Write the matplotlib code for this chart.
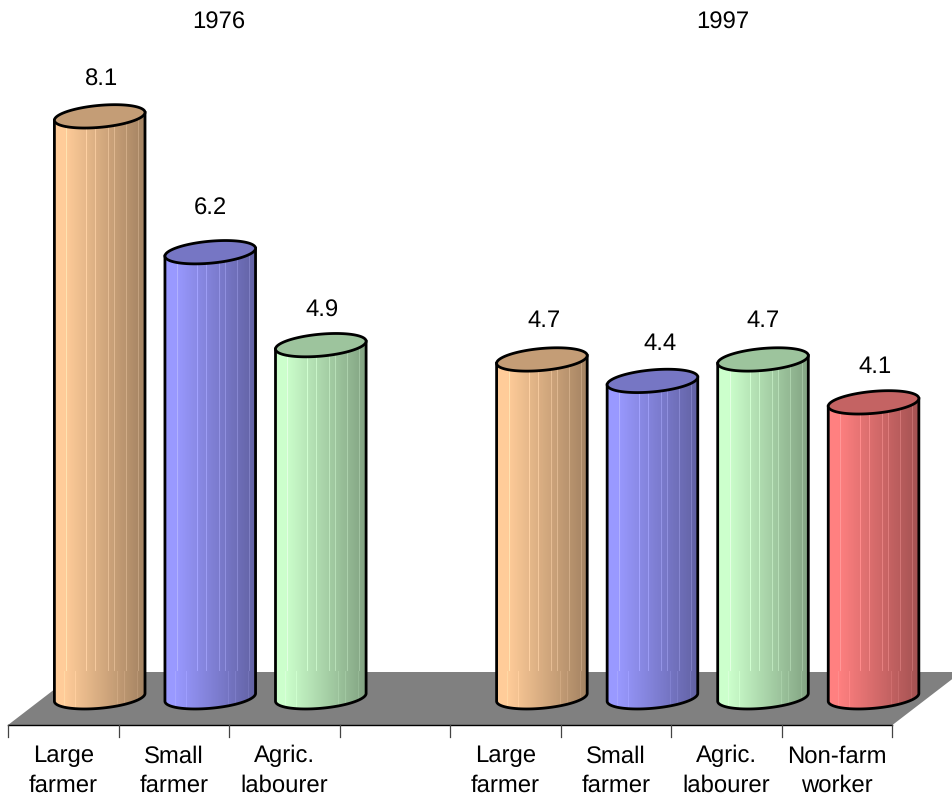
import numpy as np
import matplotlib
matplotlib.use("Agg")
import matplotlib.pyplot as plt
from matplotlib.patches import PathPatch, Polygon
from matplotlib.path import Path
from matplotlib.colors import to_rgb

plt.rcParams['font.family'] = ['Liberation Sans', 'DejaVu Sans']
plt.rcParams['text.hinting'] = 'no_hinting'

# ---- data ----
groups = ['1976', '1997']
slots = [0, 1, 2, 4, 5, 6, 7]
categories = ['Large\nfarmer', 'Small\nfarmer', 'Agric.\nlabourer',
              'Large\nfarmer', 'Small\nfarmer', 'Agric.\nlabourer', 'Non-farm\nworker']
values = [8.1, 6.2, 4.9, 4.7, 4.4, 4.7, 4.1]
bar_colors = ['#FFCC99', '#9999FF', '#CCFFCC', '#FFCC99', '#9999FF', '#CCFFCC', '#FF8080']

# ---- layout (scale: pixels per unit) ----
W, H = 953, 798
PX_X = 110.55
PX_Y = 71.5
X0_PX = 63.3      # slot 0 label centre on the front edge
Y0_PX = 695.5     # value 0 at the cylinders' base
DEPTH_X = 36.4 / PX_X
A = 45.3 / PX_X
B = 11.0 / PX_Y
TILT = 3.9 / PX_Y
BASE = -1.8 / PX_Y  # base ellipse sits slightly below the value origin

fig = plt.figure(figsize=(W / 100, H / 100), dpi=100)
ax = fig.add_axes([0, 0, 1, 1])
xlim = (-X0_PX / PX_X, (W - X0_PX) / PX_X)
ylim = ((Y0_PX - H) / PX_Y, Y0_PX / PX_Y)
ax.set_axis_off()

front_y = (Y0_PX - 725) / PX_Y
back_y = (Y0_PX - 672) / PX_Y
left = -0.5
right = 7.5
dx_depth = 69 / PX_X

ax.add_patch(Polygon([(left, front_y), (right, front_y),
                      (right + dx_depth, back_y), (left + dx_depth, back_y)],
                     closed=True, fc='#808080', ec='none', zorder=1))
ax.plot([left, right], [front_y, front_y], color='black', lw=1.0, zorder=2)
tick_bottom = (Y0_PX - 737) / PX_Y
for k in range(9):
    ax.plot([left + k] * 2, [front_y, tick_bottom], color='#444444', lw=0.9, zorder=2)

# streak positions across the cylinder width
streaks = [0.14, 0.28, 0.36, 0.46, 0.52, 0.60, 0.67, 0.73, 0.80, 0.87, 0.93]
low_streaks = [0.07, 0.12, 0.18, 0.24, 0.32, 0.42, 0.52, 0.62, 0.70, 0.78, 0.85, 0.92]


def shade(color, marks, gain):
    n = 182
    u = np.linspace(0, 1, n)
    f = np.where(u < 0.12, 1.0, 1.0 - 0.36 * ((u - 0.12) / 0.88))
    rgb = np.array(to_rgb(color))
    img = (f[:, None] * rgb)[None, :, :]
    for m in marks:
        i = int(m * n)
        img[0, i:i + 1, :] = np.clip(img[0, i:i + 1, :] + gain, 0, 1)
    return img


t = np.linspace(0, 2 * np.pi, 200)
for s, v, col in zip(slots, values, bar_colors):
    cx = s + DEPTH_X
    th = np.linspace(np.pi, 2 * np.pi, 80)
    xb = cx + A * np.cos(th)
    yb = BASE + B * np.sin(th) + TILT * np.cos(th)
    top_front = v + B * np.sin(th) + TILT * np.cos(th)
    verts = list(zip(xb, yb)) + list(zip(xb[::-1], top_front[::-1])) + [(xb[0], yb[0])]
    patch = PathPatch(Path(verts), fc='none', ec='none', transform=ax.transData)
    ax.add_patch(patch)
    im1 = ax.imshow(shade(col, streaks, 0.10), extent=(cx - A, cx + A, back_y, v + B * 2),
                    aspect='auto', zorder=3, interpolation='nearest')
    im2 = ax.imshow(shade(col, low_streaks, 0.05), extent=(cx - A, cx + A, BASE - B * 2, back_y),
                    aspect='auto', zorder=3, interpolation='nearest')
    im1.set_clip_path(patch)
    im2.set_clip_path(patch)
    # outline: left side, base arc, right side as one line
    ox = np.r_[xb[0], xb, xb[-1]]
    oy = np.r_[top_front[0], yb, top_front[-1]]
    ax.plot(ox, oy, color='black', lw=2.0, zorder=4, solid_joinstyle='round')
    # top cap
    ex = cx + A * np.cos(t)
    ey = v + B * np.sin(t) + TILT * np.cos(t)
    cap = tuple(c * 0.77 for c in to_rgb(col))
    ax.fill(ex, ey, fc=cap, ec='black', lw=2.0, zorder=5)

# value labels
label_lift = [38, 45, 36, 40, 38, 40, 37]
label_nudge = [1.5, 0, 1.5, 2, 8, 0, 1.5]
for s, v, lift, nudge in zip(slots, values, label_lift, label_nudge):
    ax.text(s + DEPTH_X + nudge / PX_X, v + (lift - 1) / PX_Y, f'{v:.1f}',
            ha='center', va='center', fontsize=17.2, color='black', zorder=6)

# category labels
for s, lab in zip(slots, categories):
    ax.text(s, (Y0_PX - 771) / PX_Y, lab, ha='center', va='center',
            fontsize=17.2, color='black', linespacing=1.42, zorder=6)

# group titles
for g, xp in zip(groups, (219, 723)):
    ax.text((xp - X0_PX) / PX_X, (Y0_PX - 23) / PX_Y, g, ha='center', va='center',
            fontsize=17.2, color='black')

ax.set_xlim(*xlim)
ax.set_ylim(*ylim)
fig.savefig('out.png', dpi=100)
